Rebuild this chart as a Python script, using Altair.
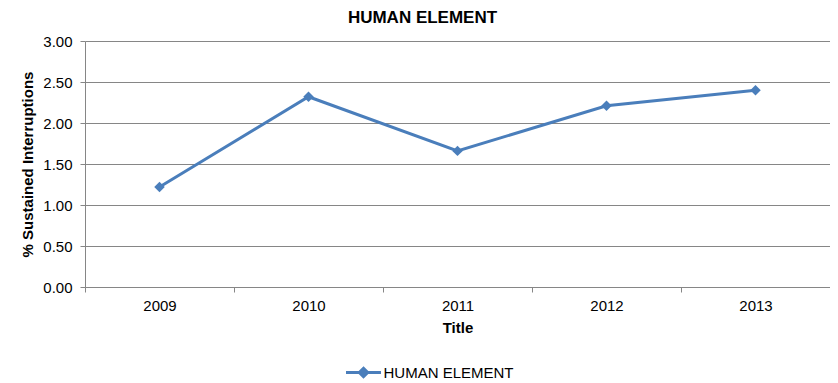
import altair as alt
import pandas as pd

years = ["2009", "2010", "2011", "2012", "2013"]
values = [1.22, 2.32, 1.66, 2.21, 2.40]
series_name = "HUMAN ELEMENT"
y_ticks = [0, 0.5, 1.0, 1.5, 2.0, 2.5, 3.0]

df = pd.DataFrame({"year": years, "value": values, "series": [series_name] * len(years)})

blue = "#4a7ebb"
grey = "#868686"
FONT = "Liberation Sans"

chart = alt.Chart(df).mark_line(
    strokeWidth=3,
    point=alt.OverlayMarkDef(shape="diamond", size=110, filled=True, color=blue),
).encode(
    x=alt.X(
        "year:N",
        scale=alt.Scale(type="band", paddingInner=0, paddingOuter=0),
        axis=alt.Axis(
            title="Title",
            labelAngle=0,
            tickBand="extent",
            tickSize=5,
            labelPadding=6,
            titlePadding=7,
            grid=False,
        ),
    ),
    y=alt.Y(
        "value:Q",
        scale=alt.Scale(domain=[0, 3]),
        axis=alt.Axis(
            title="% Sustained Interruptions",
            values=y_ticks,
            format=".2f",
            tickSize=5,
            labelPadding=8,
            titlePadding=7,
            grid=True,
        ),
    ),
    color=alt.Color(
        "series:N",
        scale=alt.Scale(range=[blue]),
        legend=alt.Legend(
            title=None,
            orient="none",
            legendX=268,
            legendY=321,
            symbolType="M-2,0L2,0M0,-0.48L0.48,0L0,0.48L-0.48,0Z",
            symbolSize=306,
            symbolStrokeWidth=3,
            symbolFillColor=blue,
            symbolStrokeColor=blue,
            labelOffset=9.5,
        ),
    ),
).properties(
    width=745,
    height=246,
    title=alt.TitleParams("HUMAN ELEMENT", dx=-35, offset=7),
    padding={"left": 77, "top": 33, "right": 0, "bottom": 94},
    autosize=alt.AutoSizeParams(type="none"),
).configure(
    font=FONT,
).configure_view(
    stroke=None,
).configure_axis(
    domainColor=grey,
    tickColor=grey,
    gridColor=grey,
    gridWidth=1,
    labelFont=FONT,
    labelFontSize=15,
    labelColor="#000000",
    titleFont=FONT,
    titleFontSize=15,
    titleFontWeight="bold",
    titleColor="#000000",
).configure_title(
    font=FONT,
    fontSize=17,
    fontWeight="bold",
    color="#000000",
    anchor="middle",
).configure_legend(
    labelFont=FONT,
    labelFontSize=15,
    labelColor="#000000",
)

chart.save("out.html", embed_options={"renderer": "svg", "actions": False})
